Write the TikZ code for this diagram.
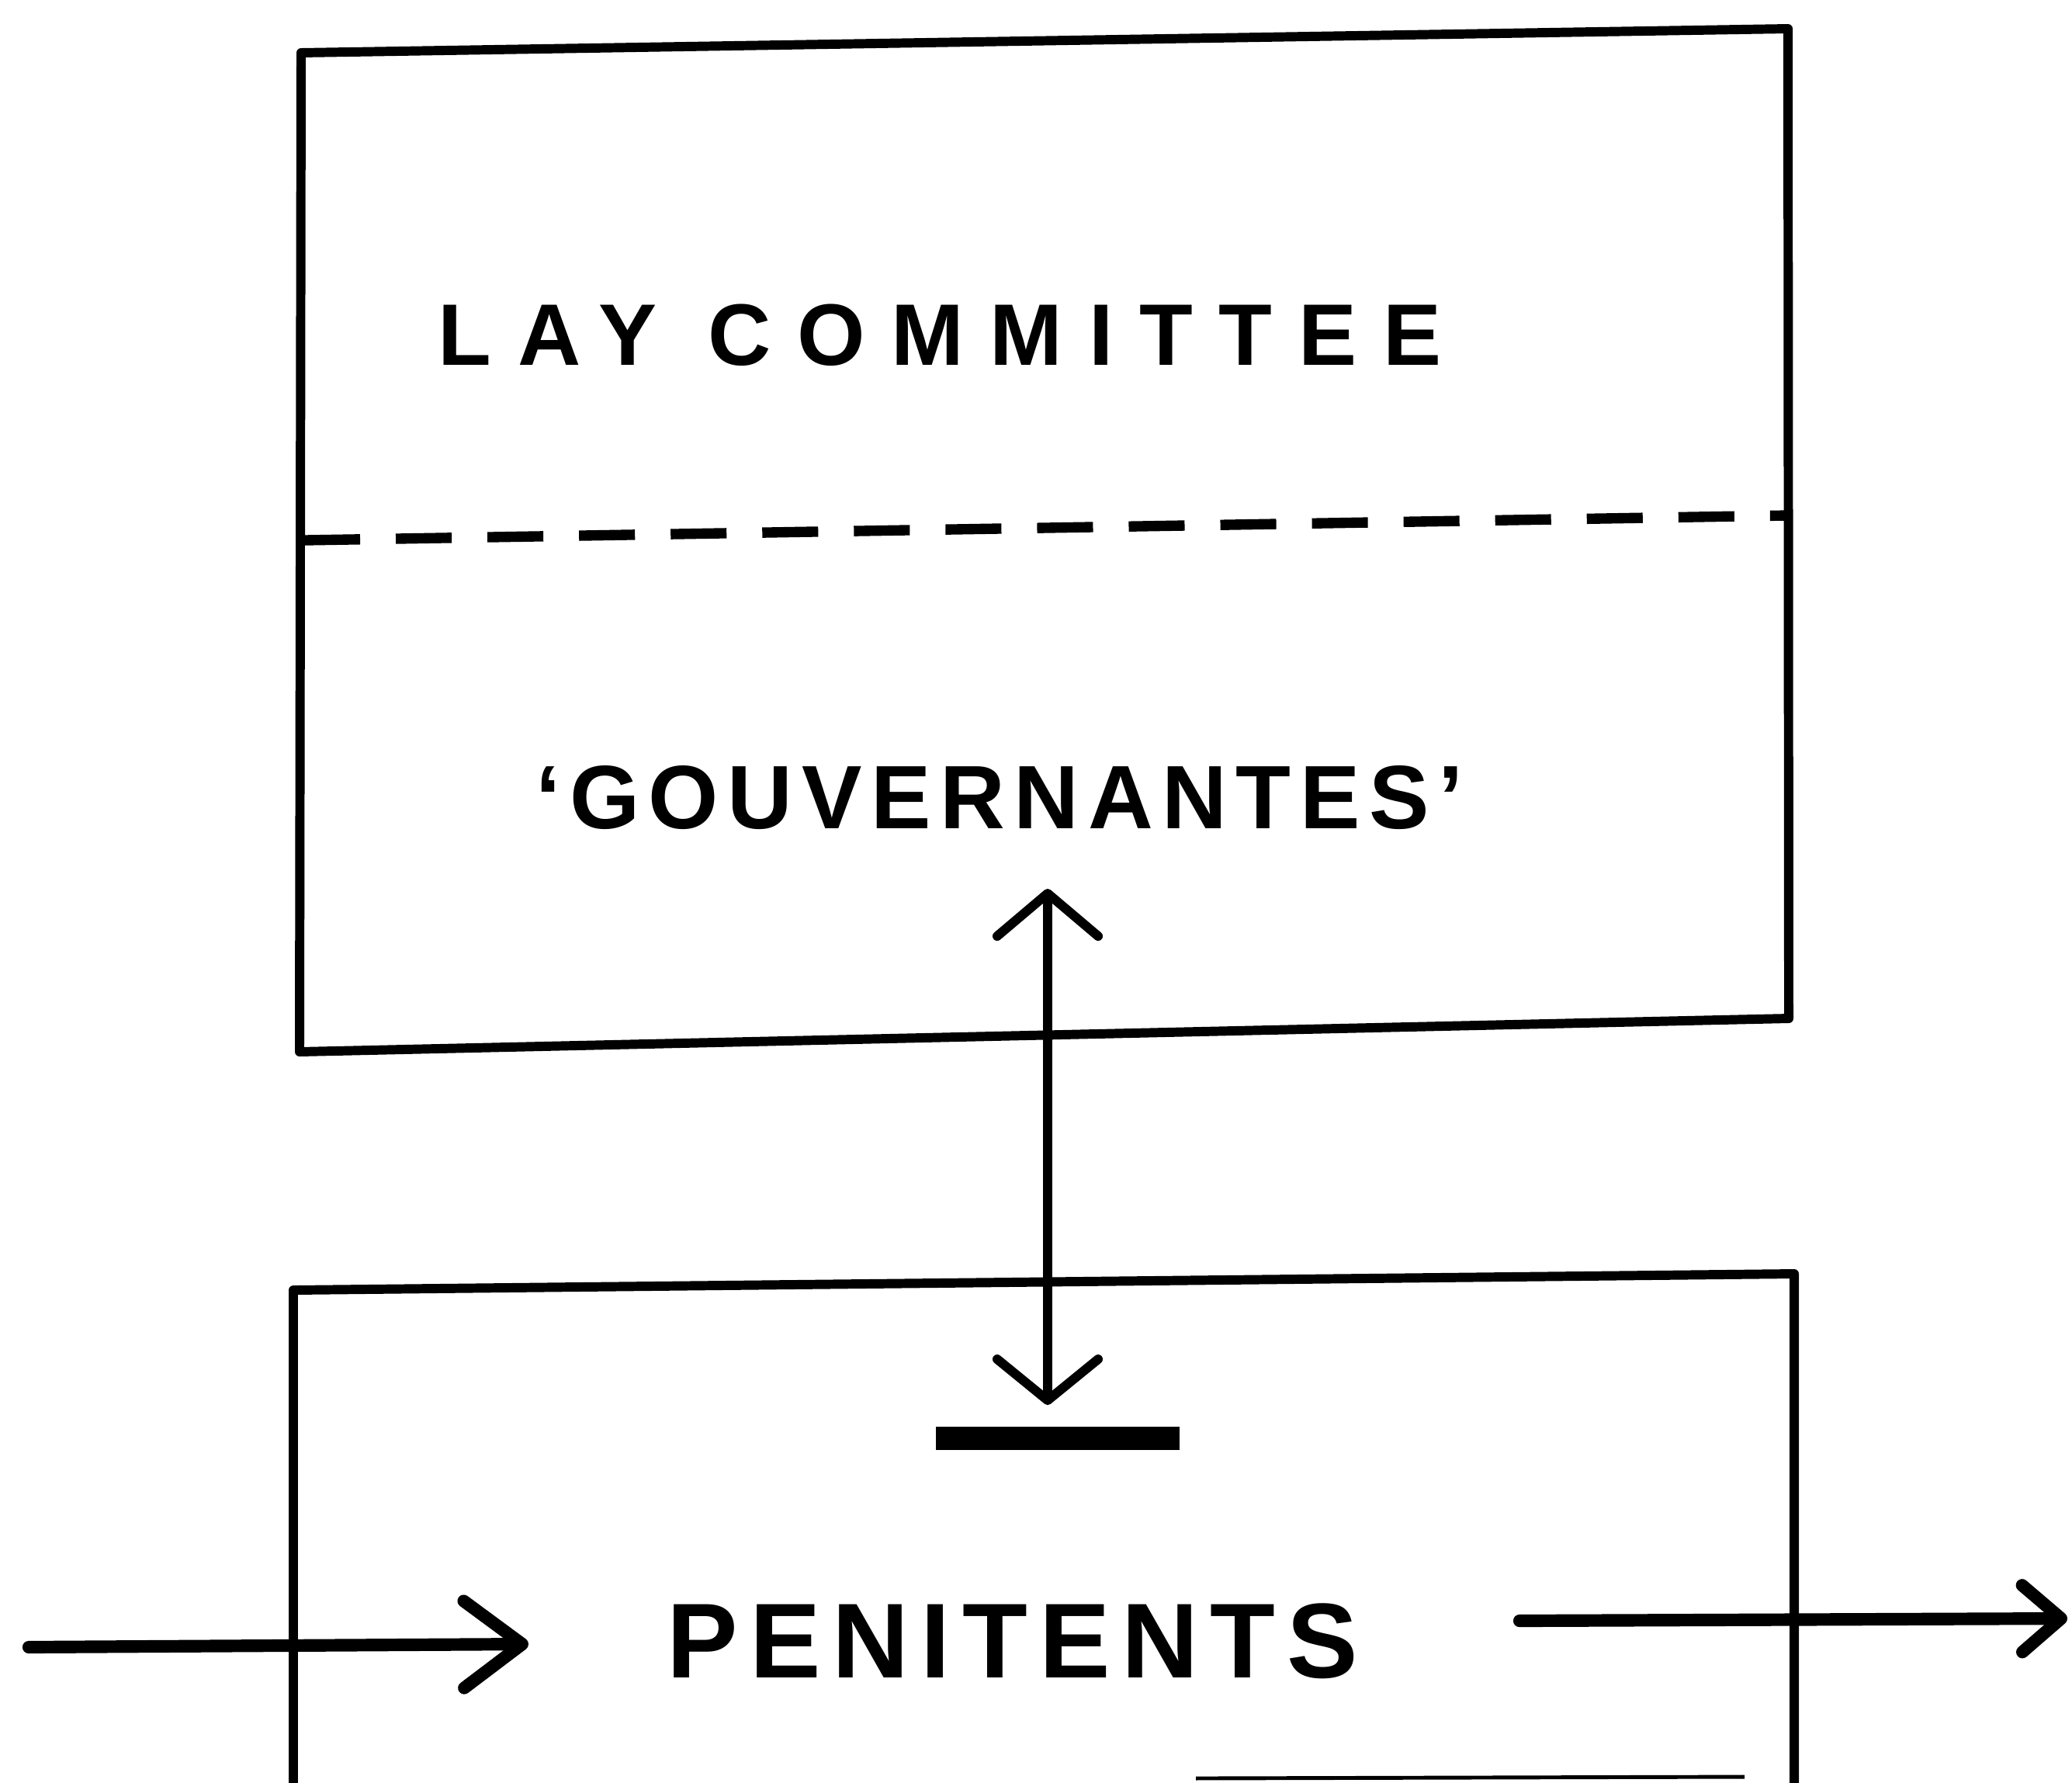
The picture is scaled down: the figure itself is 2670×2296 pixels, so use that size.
\documentclass[tikz,border=0pt]{standalone}
\usepackage{fontspec}
\setmainfont{Liberation Sans}
\newfontfamily\handA[LetterSpace=30]{Liberation Sans Bold}
\newfontfamily\handB[LetterSpace=10]{Liberation Sans Bold}
\newfontfamily\handC[LetterSpace=11]{Liberation Sans Bold}
\usetikzlibrary{arrows.meta}
\begin{document}
\begin{tikzpicture}[x=0.01cm,y=-0.01cm,
  boxline/.style={line width=3.4pt, line join=round, line cap=round},
  dashline/.style={line width=3.8pt, dash pattern=on 0.72cm off 0.46cm},
  vflow/.style={line width=3.4pt, line cap=round,
     {Straight Barb[round,length=0.55cm,width=1.3cm]}-{Straight Barb[round,length=0.53cm,width=1.3cm]}},
  inflow/.style={line width=4.6pt, line cap=round, -{Straight Barb[round,length=0.75cm,width=1.12cm]}},
  outflow/.style={line width=4.6pt, line cap=round, -{Straight Barb[round,length=0.5cm,width=0.86cm]}},
  lbl/.style={inner sep=0pt, anchor=center}]
\useasboundingbox (0,0) rectangle (2670,2296);
% upper box
\coordinate (tTL) at (388,68);
\coordinate (tTR) at (2304,37);
\coordinate (tBR) at (2305,1312);
\coordinate (tBL) at (386,1355);
\draw[boxline] (tTL) -- (tTR) -- (tBR) -- (tBL) -- cycle;
\coordinate (dL) at (392,696);
\coordinate (dR) at (2304,664);
\draw[dashline] (dL) -- (dR);
% lower box (cut off at the bottom)
\coordinate (bTL) at (378,1662);
\coordinate (bTR) at (2312,1641);
\coordinate (bBL) at (378,2300);
\coordinate (bBR) at (2312,2300);
\draw[boxline] (bBL) -- (bTL) -- (bTR) -- (bBR);
% labels
\node[lbl, font=\handA\fontsize{32}{36}\selectfont] (lay) at (1211,432) {LAY COMMITTEE};
\node[lbl, font=\handB\fontsize{33}{38}\selectfont] (gouv) at (1288,1028) {‘GOUVERNANTES’};
\node[lbl, font=\handC\fontsize{39}{44}\selectfont] (pen) at (1305,2114) {PENITENTS};
% bar
\node[fill=black, minimum width=3.13cm, minimum height=0.3cm, inner sep=0pt] (bar) at (1363,1853) {};
% vertical double arrow
\coordinate (gtip) at (1350,1145);
\coordinate (ptip) at (1350,1810);
\draw[vflow] (gtip) -- (ptip);
% flows through penitents
\coordinate (inA) at (37,2122);
\coordinate (inB) at (681,2118);
\draw[inflow] (inA) -- (inB);
\coordinate (outA) at (1958,2088);
\coordinate (outB) at (2664,2085);
\draw[outflow] (outA) -- (outB);
% fragment at the bottom edge
\coordinate (fA) at (1541,2291);
\coordinate (fB) at (2248,2289);
\draw[line width=1.4pt] (fA) -- (fB);
\end{tikzpicture}
\end{document}
